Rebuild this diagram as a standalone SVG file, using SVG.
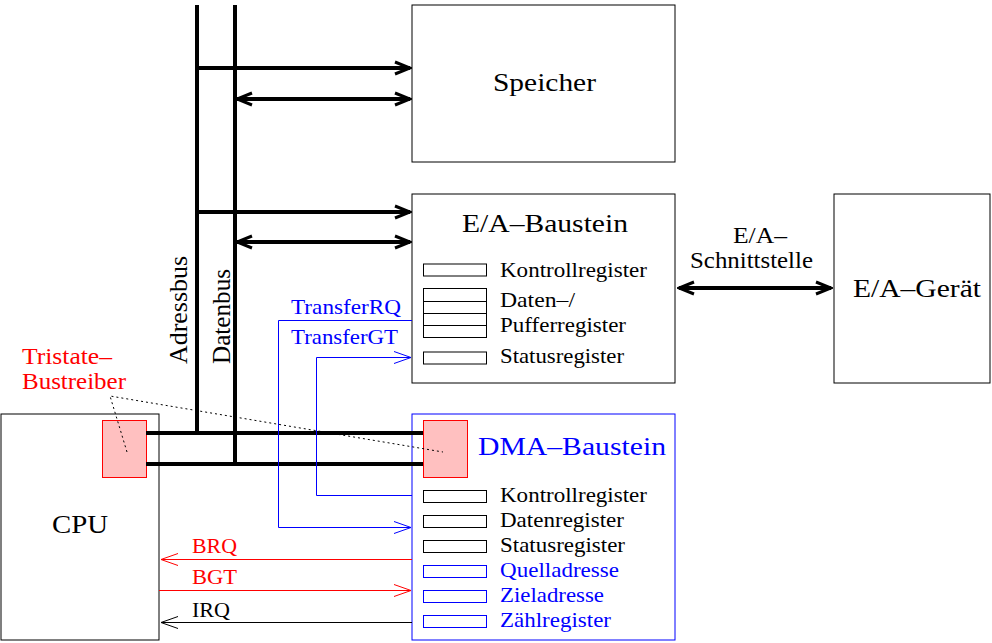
<svg xmlns="http://www.w3.org/2000/svg" width="992" height="643" viewBox="0 0 992 643">
<style>
text{font-family:"Liberation Serif","DejaVu Serif",serif;fill:#000}
.tt{font-size:26px}
.tr{font-size:21px}
.blue{fill:#0000ff}
.red{fill:#ff0000}
.box{fill:#fff;stroke:#000;stroke-width:1}
.reg{fill:none;stroke:#000;stroke-width:1}
.regb{fill:none;stroke:#0000ff;stroke-width:1}
.bus{stroke:#000;stroke-width:4;fill:none}
.drv{fill:#ffc0c0;stroke:#ff0000;stroke-width:1}
</style>
<defs>
<marker id="ak" markerUnits="userSpaceOnUse" markerWidth="20" markerHeight="20" viewBox="-18 -10 20 20" refX="0" refY="0" orient="auto-start-reverse"><path d="M-15,-6 L0,0 L-15,6" fill="none" stroke="#000" stroke-width="3"/></marker>
<marker id="ab" markerUnits="userSpaceOnUse" markerWidth="20" markerHeight="20" viewBox="-18 -10 20 20" refX="0" refY="0" orient="auto-start-reverse"><path d="M-17,-6 L0,0 L-17,6" fill="none" stroke="#0000ff" stroke-width="1"/></marker>
<marker id="ar" markerUnits="userSpaceOnUse" markerWidth="20" markerHeight="20" viewBox="-18 -10 20 20" refX="0" refY="0" orient="auto-start-reverse"><path d="M-17,-6 L0,0 L-17,6" fill="none" stroke="#ff0000" stroke-width="1"/></marker>
<marker id="an" markerUnits="userSpaceOnUse" markerWidth="20" markerHeight="20" viewBox="-18 -10 20 20" refX="0" refY="0" orient="auto-start-reverse"><path d="M-17,-6 L0,0 L-17,6" fill="none" stroke="#000" stroke-width="1"/></marker>
</defs>
<rect width="992" height="643" fill="#fff"/>

<g id="speicher">
<rect class="box" x="412" y="5" width="263" height="157"/>
<text class="tt" x="493" y="91" textLength="103" lengthAdjust="spacingAndGlyphs">Speicher</text>
</g>

<g id="ea-baustein">
<rect class="box" x="412" y="194" width="263" height="189"/>
<text class="tt" x="462" y="232" textLength="166" lengthAdjust="spacingAndGlyphs">E/A–Baustein</text>
<rect class="reg" x="423.5" y="264" width="63" height="12"/>
<text class="tr" x="500" y="277" textLength="147" lengthAdjust="spacingAndGlyphs">Kontrollregister</text>
<rect class="reg" x="423.5" y="288.5" width="63" height="49"/>
<line class="reg" x1="423.5" y1="301.5" x2="486.5" y2="301.5"/>
<line class="reg" x1="423.5" y1="313.5" x2="486.5" y2="313.5"/>
<line class="reg" x1="423.5" y1="325.5" x2="486.5" y2="325.5"/>
<text class="tr" x="500" y="307" textLength="75" lengthAdjust="spacingAndGlyphs">Daten–/</text>
<text class="tr" x="500" y="332" textLength="126" lengthAdjust="spacingAndGlyphs">Pufferregister</text>
<rect class="reg" x="423.5" y="352" width="63" height="12"/>
<text class="tr" x="500" y="363" textLength="124" lengthAdjust="spacingAndGlyphs">Statusregister</text>
</g>

<g id="ea-geraet">
<rect class="box" x="834" y="194" width="156" height="189"/>
<text class="tt" x="853" y="297" textLength="128" lengthAdjust="spacingAndGlyphs">E/A–Gerät</text>
</g>

<g id="cpu">
<rect class="box" x="1" y="414" width="158" height="226"/>
<text class="tt" x="52" y="533" textLength="56" lengthAdjust="spacingAndGlyphs">CPU</text>
</g>

<g id="dma-baustein">
<rect x="412" y="414" width="263" height="226" fill="#fff" stroke="#0000ff" stroke-width="1"/>
<text class="tt blue" x="478" y="455" textLength="188" lengthAdjust="spacingAndGlyphs">DMA–Baustein</text>
<rect class="reg" x="423.5" y="490.5" width="63" height="12"/>
<text class="tr" x="500" y="502" textLength="147" lengthAdjust="spacingAndGlyphs">Kontrollregister</text>
<rect class="reg" x="423.5" y="515.5" width="63" height="12"/>
<text class="tr" x="500" y="527" textLength="124" lengthAdjust="spacingAndGlyphs">Datenregister</text>
<rect class="reg" x="423.5" y="540.5" width="63" height="12"/>
<text class="tr" x="500" y="552" textLength="125" lengthAdjust="spacingAndGlyphs">Statusregister</text>
<rect class="regb" x="423.5" y="565.5" width="63" height="12"/>
<text class="tr blue" x="500" y="577" textLength="119" lengthAdjust="spacingAndGlyphs">Quelladresse</text>
<rect class="regb" x="423.5" y="590.5" width="63" height="12"/>
<text class="tr blue" x="500" y="602" textLength="104" lengthAdjust="spacingAndGlyphs">Zieladresse</text>
<rect class="regb" x="423.5" y="615.5" width="63" height="12"/>
<text class="tr blue" x="500" y="627" textLength="111" lengthAdjust="spacingAndGlyphs">Zählregister</text>
</g>

<g id="tristate">
<rect class="drv" x="102.5" y="420.5" width="44" height="57"/>
<rect class="drv" x="423.5" y="420.5" width="44" height="57"/>
<text class="red" x="22" y="364" font-size="24" textLength="90" lengthAdjust="spacingAndGlyphs">Tristate–</text>
<text class="red" x="22" y="389" font-size="24" textLength="104" lengthAdjust="spacingAndGlyphs">Bustreiber</text>
</g>

<g id="bus-labels">
<text font-size="25" transform="translate(187,364) rotate(-90)" textLength="108" lengthAdjust="spacingAndGlyphs">Adressbus</text>
<text font-size="25" transform="translate(230,364) rotate(-90)" textLength="95" lengthAdjust="spacingAndGlyphs">Datenbus</text>
</g>

<g id="connectors">
<line class="bus" x1="197" y1="5" x2="197" y2="435"/>
<line class="bus" x1="235" y1="5" x2="235" y2="466"/>
<line class="bus" x1="146" y1="433" x2="423" y2="433"/>
<line class="bus" x1="146" y1="464" x2="423" y2="464"/>
<line class="bus" x1="197" y1="68" x2="410" y2="68" marker-end="url(#ak)"/>
<line class="bus" x1="237" y1="99" x2="410" y2="99" marker-start="url(#ak)" marker-end="url(#ak)"/>
<line class="bus" x1="197" y1="212" x2="410" y2="212" marker-end="url(#ak)"/>
<line class="bus" x1="237" y1="242" x2="410" y2="242" marker-start="url(#ak)" marker-end="url(#ak)"/>
<line class="bus" x1="679" y1="288" x2="831" y2="288" marker-start="url(#ak)" marker-end="url(#ak)"/>
<text font-size="23" x="733" y="243" textLength="54" lengthAdjust="spacingAndGlyphs">E/A–</text>
<text font-size="23" x="690" y="268" textLength="123" lengthAdjust="spacingAndGlyphs">Schnittstelle</text>

<polyline points="412,320.5 278.5,320.5 278.5,527.5 411,527.5" fill="none" stroke="#0000ff" stroke-width="1" marker-end="url(#ab)"/>
<text class="tr blue" x="291" y="314" textLength="110" lengthAdjust="spacingAndGlyphs">TransferRQ</text>
<polyline points="412,495.5 316.5,495.5 316.5,357.5 411,357.5" fill="none" stroke="#0000ff" stroke-width="1" marker-end="url(#ab)"/>
<text class="tr blue" x="291" y="344" textLength="107" lengthAdjust="spacingAndGlyphs">TransferGT</text>

<line x1="412" y1="559.5" x2="161" y2="559.5" stroke="#ff0000" stroke-width="1" marker-end="url(#ar)"/>
<text class="tr red" x="192" y="553" textLength="45" lengthAdjust="spacingAndGlyphs">BRQ</text>
<line x1="159" y1="590.5" x2="411" y2="590.5" stroke="#ff0000" stroke-width="1" marker-end="url(#ar)"/>
<text class="tr red" x="192" y="584" textLength="45" lengthAdjust="spacingAndGlyphs">BGT</text>
<line x1="412" y1="622.5" x2="161" y2="622.5" stroke="#000" stroke-width="1" marker-end="url(#an)"/>
<text class="tr" x="192" y="617" textLength="38" lengthAdjust="spacingAndGlyphs">IRQ</text>

<polyline points="127,452 110,396 443,452" fill="none" stroke="#000" stroke-width="1" stroke-dasharray="2,3"/>
</g>
</svg>
